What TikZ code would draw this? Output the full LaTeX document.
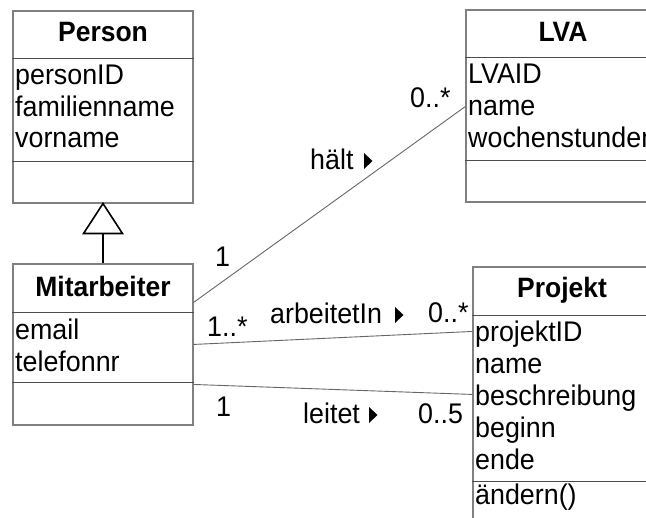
\documentclass[tikz,border=0pt]{standalone}
\usepackage{fontspec}
\setmainfont{Liberation Sans}[FakeStretch=0.945]
\usetikzlibrary{calc}
\definecolor{boxgray}{gray}{0.5}
\definecolor{sepgray}{gray}{0.3}
\definecolor{linegray}{gray}{0.4}
\begin{document}
\begin{tikzpicture}[x=1pt,y=-1pt,
  txt/.style={inner sep=0pt, anchor=base west, font=\fontsize{28.4}{32}\selectfont},
  ttl/.style={inner sep=0pt, anchor=base, font=\fontsize{28}{32}\selectfont\bfseries},
  umlbox/.style={draw=boxgray, line width=1.1pt, rectangle, inner sep=0pt, fill=white},
  sepline/.style={draw=sepgray, line width=1.1pt},
  assoc/.style={draw=linegray, line width=0.9pt},
  gen/.style={draw=black, line width=1.6pt},
  dirtri/.style={fill=black}]
\useasboundingbox (0,0) rectangle (646,518);
\clip (0,0) rectangle (646,518);

% class boxes
\node[umlbox, minimum width=180pt, minimum height=192pt] (person) at (103,107) {};
\node[umlbox, minimum width=180pt, minimum height=161pt] (mit) at (103,344.5) {};
\node[umlbox, minimum width=194pt, minimum height=192pt] (lva) at (563,106) {};
\node[umlbox, minimum width=178pt, minimum height=278pt] (proj) at (562,406) {};

% compartment separators
\draw[sepline] ($(person.north west)+(0,48)$) -- ($(person.north east)+(0,48)$);
\draw[sepline] ($(person.north west)+(0,151)$) -- ($(person.north east)+(0,151)$);
\draw[sepline] ($(mit.north west)+(0,49)$) -- ($(mit.north east)+(0,49)$);
\draw[sepline] ($(mit.north west)+(0,119)$) -- ($(mit.north east)+(0,119)$);
\draw[sepline] ($(lva.north west)+(0,48)$) -- ($(lva.north east)+(0,48)$);
\draw[sepline] ($(lva.north west)+(0,151)$) -- ($(lva.north east)+(0,151)$);
\draw[sepline] ($(proj.north west)+(0,49)$) -- ($(proj.north east)+(0,49)$);
\draw[sepline] ($(proj.north west)+(0,215)$) -- ($(proj.north east)+(0,215)$);

% Person
\node[ttl] (tperson) at (103,42) {Person};
\node[txt] (pa1) at (15,85) {personID};
\node[txt] (pa2) at (15,117) {familienname};
\node[txt] (pa3) at (15,148) {vorname};

% Mitarbeiter
\node[ttl] (tmit) at (103,297) {Mitarbeiter};
\node[txt] (ma1) at (15,340) {email};
\node[txt] (ma2) at (15,372) {telefonnr};

% LVA
\node[ttl] (tlva) at (563,42) {LVA};
\node[txt] (la1) at (468,84) {LVAID};
\node[txt] (la2) at (468,116) {name};
\node[txt] (la3) at (468,148) {wochenstunden};

% Projekt
\node[ttl] (tproj) at (562,298) {Projekt};
\node[txt] (pr1) at (475,342) {projektID};
\node[txt] (pr2) at (475,374) {name};
\node[txt] (pr3) at (475,406) {beschreibung};
\node[txt] (pr4) at (475,438) {beginn};
\node[txt] (pr5) at (475,470) {ende};
\node[txt] (pr6) at (475,505) {ändern()};

% generalization Mitarbeiter -> Person
\coordinate (genbase) at ($(person.south)+(0,30)$);
\draw[gen] (mit.north) -- (genbase);
\draw[gen, fill=white, line join=miter] (person.south) -- ($(genbase)+(-19.5,0)$) -- ($(genbase)+(19.5,0)$) -- cycle;

% associations
\draw[assoc] ($(mit.north east)+(0,39)$) -- ($(lva.north west)+(0,97)$);
\draw[assoc] ($(mit.north east)+(0,81)$) -- ($(proj.north west)+(0,65)$);
\draw[assoc] ($(mit.north east)+(0,121)$) -- ($(proj.north west)+(0,128)$);

% association labels and multiplicities
\node[txt] (m1) at (410,108) {0..*};
\node[txt] (lh) at (310,170) {hält};
\node[txt] (m2) at (215,267) {1};
\node[txt] (la) at (270,324) {arbeitetIn};
\node[txt] (m3) at (428,323) {0..*};
\node[txt] (m4) at (207,337) {1..*};
\node[txt] (m5) at (216,417) {1};
\node[txt] (ll) at (303,424) {leitet};
\node[txt] (m6) at (418,424) {0..5};

% reading direction arrows
\fill[dirtri] ($(lh.base west)+(54,-1)$) -- ++(0,-16) -- ++(8.5,8) -- cycle;
\fill[dirtri] ($(la.base west)+(125,-1)$) -- ++(0,-16) -- ++(8.5,8) -- cycle;
\fill[dirtri] ($(ll.base west)+(66,-1)$) -- ++(0,-16) -- ++(8.5,8) -- cycle;
\end{tikzpicture}
\end{document}
